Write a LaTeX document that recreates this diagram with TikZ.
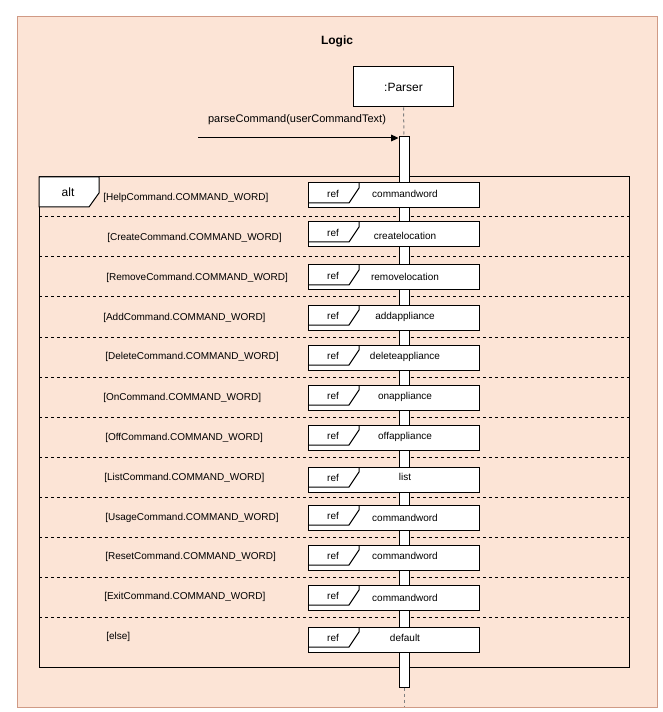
\documentclass[tikz,border=0pt]{standalone}
\usepackage{fontspec}
\setmainfont{Liberation Sans}
\usetikzlibrary{arrows.meta}
\definecolor{peach}{HTML}{FCE4D6}
\definecolor{peachline}{HTML}{D09A85}
\definecolor{lifegray}{HTML}{808080}
\tikzset{
  smalltext/.style={font=\fontsize{7.5}{9}\selectfont, inner sep=0pt},
  midtext/.style={font=\fontsize{8.25}{10}\selectfont, inner sep=0pt},
  bigtext/.style={font=\fontsize{9}{11}\selectfont, inner sep=0pt},
  refbox/.style={draw=black, fill=white, line width=0.75pt, minimum width=128.25pt, minimum height=18.75pt, inner sep=0pt},
  divider/.style={line width=0.75pt, dash pattern=on 2.25pt off 2.25pt},
  lifeline/.style={lifegray, line width=0.75pt, dash pattern=on 2.25pt off 2.25pt},
  framebox/.style={draw=black, line width=0.75pt},
}
\begin{document}
\begin{tikzpicture}[x=0.75pt,y=-0.75pt]
\useasboundingbox (0,0) rectangle (662,712);
% outer container
\draw[fill=peach, draw=peachline, line width=0.75pt] (17,17) rectangle (657,707);
\node[font=\bfseries\fontsize{9}{11}\selectfont, inner sep=0pt] (title) at (337,41) {Logic};
% parser
\node[draw=black, fill=white, line width=0.75pt, minimum width=75pt, minimum height=30pt, inner sep=0pt, bigtext] (parser) at (403.5,87) {:Parser};
% alt frame
\draw[framebox] (39,177) rectangle (629,667);
\foreach \yy in {217,257,297,337,377,417,457,497,537,577,617}
  \draw[divider] (39,\yy) -- (629,\yy);
\draw[framebox, fill=white] (39,177) -- (99,177) -- (99,193) -- (89,207) -- (39,207) -- cycle;
\node[bigtext] (altlabel) at (68,192) {alt};
% guards
\foreach \gx/\gy/\gt [count=\i] in {
  103/198/{[HelpCommand.COMMAND\_WORD]},
  107/238/{[CreateCommand.COMMAND\_WORD]},
  106/278/{[RemoveCommand.COMMAND\_WORD]},
  103/318/{[AddCommand.COMMAND\_WORD]},
  105/357/{[DeleteCommand.COMMAND\_WORD]},
  103/398/{[OnCommand.COMMAND\_WORD]},
  105/438/{[OffCommand.COMMAND\_WORD]},
  104/478/{[ListCommand.COMMAND\_WORD]},
  105/518/{[UsageCommand.COMMAND\_WORD]},
  105/557/{[ResetCommand.COMMAND\_WORD]},
  104/597/{[ExitCommand.COMMAND\_WORD]},
  106/637/{[else]}}
  \node[smalltext, anchor=west] (guard\i) at (\gx,\gy) {\gt};
% activation bar
\node[draw=black, fill=white, line width=0.75pt, minimum width=7.5pt, minimum height=412.5pt, inner sep=0pt] (bar) at (404,412) {};
\draw[lifeline] (parser.south) -- (bar.north);
\coordinate (lifeend) at (404,707);
\draw[lifeline] (bar.south) -- (lifeend);
% message
\coordinate (msgstart) at (198,138);
\draw[line width=0.75pt, -{Triangle[length=5.5pt,width=5pt]}] (msgstart) -- (msgstart -| bar.west);
\node[midtext] (msglabel) at (297,120) {parseCommand(userCommandText)};
% ref boxes
\foreach \rt/\ny/\nt [count=\i] in {
  183/194/commandword,
  222/236/createlocation,
  265/277/removelocation,
  305/317/addappliance,
  345/357/deleteappliance,
  385/397/onappliance,
  425/437/offappliance,
  467/477/list,
  505/518/commandword,
  545/556/commandword,
  585/598/commandword,
  627/638/default}
{
  \node[refbox] (ref\i) at (393.5,\rt+12.5) {};
  \draw[line width=0.75pt] (359,\rt) -- (359,\rt+5) -- (349,\rt+20) -- (308,\rt+20);
  \node[smalltext] (reftag\i) at (333,\rt+11) {ref};
  \node[smalltext] (refname\i) at (405,\ny) {\nt};
}
\end{tikzpicture}
\end{document}
